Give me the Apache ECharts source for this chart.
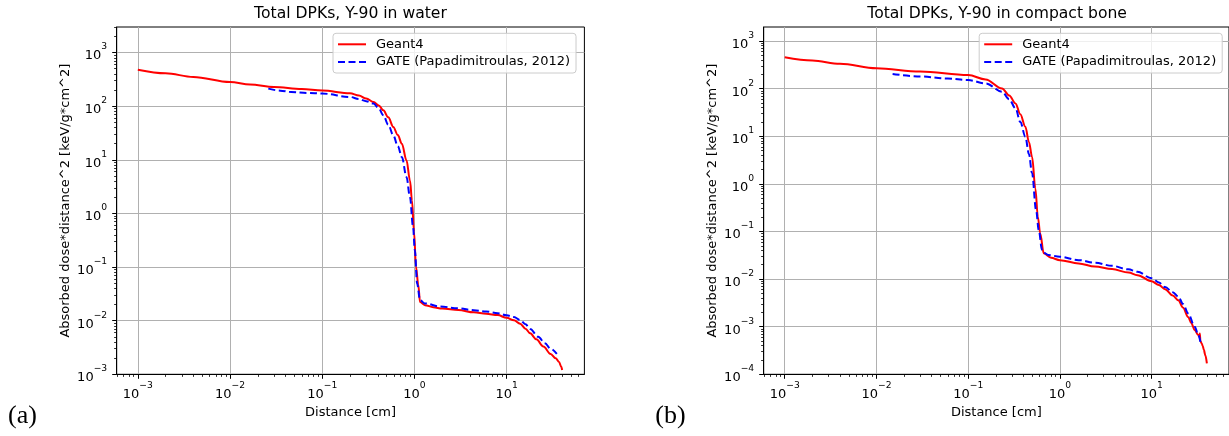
<!DOCTYPE html>
<html>
<head>
<meta charset="utf-8">
<script src="https://cdn.jsdelivr.net/npm/echarts@6/dist/echarts.min.js"></script>
<style>
html,body{margin:0;padding:0;background:#fff;}
#chart{width:1229px;height:436px;}
</style>
</head>
<body>
<div id="chart"></div>
<script>
// ---------------- text ----------------
const panelTitles = ['Total DPKs, Y-90 in water', 'Total DPKs, Y-90 in compact bone'];
const panelLetters = ['(a)', '(b)'];
const seriesNames = ['Geant4', 'GATE (Papadimitroulas, 2012)'];
const xAxisTitle = 'Distance [cm]';
const yAxisTitle = 'Absorbed dose*distance^2 [keV/g*cm^2]';

// ---------------- ticks ----------------
const xMajorTicks = [1e-3, 1e-2, 1e-1, 1, 10, 100];
const yMajorTicksWater = [1e-3, 1e-2, 1e-1, 1, 10, 100, 1000];
const yMajorTicksBone = [1e-4, 1e-3, 1e-2, 1e-1, 1, 10, 100, 1000];
const minorMantissas = [2, 3, 4, 5, 6, 7, 8, 9];
const xRange = [5.9e-4, 69.7];
const yRangeWater = [1e-3, 3000];
const yRangeBone = [1e-4, 1970];

// ---------------- data: water ----------------
const waterG4Dist = [0.001, 0.002, 0.004, 0.01, 0.0165, 0.03, 0.06, 0.1, 0.2, 0.25, 0.3, 0.36, 0.41, 0.46, 0.52, 0.59, 0.66, 0.73, 0.82, 0.895, 0.94, 0.99, 1.04, 1.10, 1.15, 1.3, 1.6, 2.0, 3.0, 4.4, 6.0, 8.0, 10, 12, 14, 16, 18, 21, 25, 30, 34, 37, 39, 40];
const waterG4Dose = [480, 411, 351, 282, 254, 229, 209, 196, 174, 158, 139, 120, 103, 84, 62, 41, 29, 20, 9.8, 4.1, 1.75, 0.45, 0.1, 0.047, 0.0222, 0.0195, 0.0178, 0.0168, 0.0158, 0.0143, 0.0135, 0.0127, 0.0113, 0.0102, 0.0088, 0.0071, 0.0058, 0.0045, 0.0033, 0.0024, 0.0020, 0.0017, 0.0014, 0.0012];
const waterGateDist = [0.026, 0.035, 0.046, 0.07, 0.1, 0.2, 0.25, 0.3, 0.36, 0.41, 0.46, 0.52, 0.59, 0.66, 0.73, 0.82, 0.895, 0.966, 1.01, 1.07, 1.15, 1.3, 1.9, 3.0, 4.4, 6.0, 8.0, 10, 12, 14, 16, 18, 22, 26, 30, 35];
const waterGateDose = [213, 195, 184, 177, 172, 149, 136, 124, 112, 91, 68, 45, 28.6, 18, 11.3, 4.8, 2.0, 0.56, 0.205, 0.049, 0.024, 0.021, 0.0184, 0.017, 0.0157, 0.0148, 0.0138, 0.0126, 0.0117, 0.0103, 0.0086, 0.0070, 0.0050, 0.0038, 0.0030, 0.0024];

// ---------------- data: compact bone ----------------
const boneG4Dist = [0.001, 0.002, 0.004, 0.01, 0.03, 0.1, 0.155, 0.234, 0.28, 0.328, 0.37, 0.42, 0.46, 0.497, 0.54, 0.575, 0.61, 0.666, 0.8, 1.0, 1.6, 2.4, 3.7, 5.6, 7.0, 10, 12, 14, 17, 19.5, 22, 25, 27, 29.5, 32, 33, 33.5, 34, 35, 36, 37, 38.5, 40];
const boneG4Dose = [454, 388, 332, 267, 229, 193, 156, 101, 72, 49, 29, 15.9, 7.5, 3.7, 0.8, 0.2, 0.091, 0.0347, 0.028, 0.025, 0.0213, 0.0183, 0.0162, 0.0137, 0.0121, 0.0090, 0.0075, 0.0061, 0.0045, 0.0036, 0.0025, 0.0016, 0.0012, 0.00085, 0.00068, 0.00062, 0.00072, 0.0005, 0.00045, 0.0004, 0.00033, 0.00025, 0.00017];
const boneGateDist = [0.015, 0.03, 0.06, 0.1, 0.155, 0.234, 0.28, 0.328, 0.37, 0.42, 0.46, 0.497, 0.55, 0.588, 0.638, 0.66, 0.75, 1.0, 1.6, 2.42, 3.7, 5.57, 7.0, 10, 12, 14, 17, 19.5, 22, 25, 29.5, 32, 34];
const boneGateDose = [203, 180, 163, 151, 129, 86, 60, 38.5, 20, 9.8, 4.2, 1.66, 0.28, 0.107, 0.041, 0.036, 0.032, 0.0295, 0.025, 0.022, 0.019, 0.016, 0.0142, 0.0104, 0.0085, 0.0068, 0.0053, 0.0043, 0.0030, 0.0019, 0.001, 0.0007, 0.00048];

// ---------------- helpers ----------------
const FONT = 'DejaVu Sans';
function zip(xs, ys) { return xs.map((x, i) => [x, ys[i]]); }
function minorTicks(range) {
  const out = [];
  const lo = Math.floor(Math.log10(range[0])), hi = Math.ceil(Math.log10(range[1]));
  for (let d = lo; d <= hi; d++) {
    minorMantissas.forEach(m => {
      const v = m * Math.pow(10, d);
      if (v >= range[0] && v <= range[1]) out.push(v);
    });
  }
  return out;
}
function powLabel(v) {
  const e = Math.round(Math.log10(v));
  const s = e < 0 ? '\u2212' + (-e) : String(e);
  return '{b|10}{e|' + s + '}';
}
const labelRich = {
  b: { fontSize: 13, lineHeight: 20, verticalAlign: 'bottom', fontFamily: FONT, color: '#000' },
  e: { fontSize: 9.2, lineHeight: 9, verticalAlign: 'top', fontFamily: FONT, color: '#000' }
};
const nameStyle = { fontSize: 13, fontFamily: FONT, color: '#000' };

function mainX(gi) {
  return {
    type: 'log', logBase: 10, gridIndex: gi, min: xRange[0], max: xRange[1], position: 'bottom',
    axisLine: { show: true, lineStyle: { color: '#000', width: 1 } },
    axisTick: { show: true, length: 4.5, customValues: xMajorTicks, lineStyle: { color: '#000', width: 1 } },
    axisLabel: { customValues: xMajorTicks, formatter: powLabel, rich: labelRich, margin: 7 },
    splitLine: { show: true, lineStyle: { color: '#b0b0b0', width: 1 } },
    name: xAxisTitle, nameLocation: 'middle', nameGap: 28, nameTextStyle: nameStyle
  };
}
function minorX(gi) {
  return {
    type: 'log', logBase: 10, gridIndex: gi, min: xRange[0], max: xRange[1], position: 'bottom',
    axisLine: { show: false }, axisLabel: { show: false }, splitLine: { show: false },
    axisTick: { show: true, length: 2.6, customValues: minorTicks(xRange), lineStyle: { color: '#000', width: 0.8 } }
  };
}
function mainY(gi, range, majors) {
  return {
    type: 'log', logBase: 10, gridIndex: gi, min: range[0], max: range[1], position: 'left',
    axisLine: { show: true, lineStyle: { color: '#000', width: 1 } },
    axisTick: { show: true, length: 4.5, customValues: majors, lineStyle: { color: '#000', width: 1 } },
    axisLabel: { customValues: majors, formatter: powLabel, rich: labelRich, margin: 9.5 },
    splitLine: { show: true, lineStyle: { color: '#b0b0b0', width: 1 } },
    name: yAxisTitle, nameLocation: 'middle', nameGap: 45, nameTextStyle: nameStyle
  };
}
function minorY(gi, range) {
  return {
    type: 'log', logBase: 10, gridIndex: gi, min: range[0], max: range[1], position: 'left',
    axisLine: { show: false }, axisLabel: { show: false }, splitLine: { show: false },
    axisTick: { show: true, length: 2.6, customValues: minorTicks(range), lineStyle: { color: '#000', width: 0.8 } }
  };
}
function g4Series(xi, yi, xs, ys) {
  return {
    type: 'line', name: seriesNames[0], xAxisIndex: xi, yAxisIndex: yi, data: zip(xs, ys),
    symbol: 'none', smooth: 0.35, smoothMonotone: 'x',
    lineStyle: { color: '#ff0000', width: 2 }, itemStyle: { color: '#ff0000' }, z: 3
  };
}
function gateSeries(xi, yi, xs, ys) {
  return {
    type: 'line', name: seriesNames[1], xAxisIndex: xi, yAxisIndex: yi, data: zip(xs, ys),
    symbol: 'none', smooth: 0.35, smoothMonotone: 'x',
    lineStyle: { color: '#0000ff', width: 2, type: [7, 3.5] }, itemStyle: { color: '#0000ff' }, z: 4
  };
}
function legendAt(left) {
  return {
    orient: 'vertical', left: left, top: 33.3, data: seriesNames,
    itemWidth: 28, itemHeight: 14, itemGap: 4.7,
    padding: [4.5, 6, 4.5, 4],
    backgroundColor: 'rgba(255,255,255,0.8)', borderColor: '#cccccc', borderWidth: 1, borderRadius: 3,
    itemStyle: { opacity: 0, borderWidth: 0 },
    textStyle: { fontSize: 13, fontFamily: FONT, color: '#000', padding: [0, 0, 0, 5] },
    selectedMode: false
  };
}

const chart = echarts.init(document.getElementById('chart'), null, { renderer: 'canvas' });
chart.setOption({
  animation: false,
  backgroundColor: '#ffffff',
  grid: [
    { left: 116.7, top: 27, width: 467.7, height: 347.3, show: true, borderColor: '#000', borderWidth: 1, backgroundColor: 'transparent' },
    { left: 763.7, top: 27, width: 467, height: 347.3, show: true, borderColor: '#000', borderWidth: 1, backgroundColor: 'transparent' }
  ],
  xAxis: [mainX(0), minorX(0), mainX(1), minorX(1)],
  yAxis: [mainY(0, yRangeWater, yMajorTicksWater), minorY(0, yRangeWater), mainY(1, yRangeBone, yMajorTicksBone), minorY(1, yRangeBone)],
  legend: [legendAt(333), legendAt(979.2)],
  series: [
    g4Series(0, 0, waterG4Dist, waterG4Dose),
    gateSeries(0, 0, waterGateDist, waterGateDose),
    g4Series(2, 2, boneG4Dist, boneG4Dose),
    gateSeries(2, 2, boneGateDist, boneGateDose)
  ],
  graphic: [
    { type: 'text', x: 350.5, y: 14, style: { text: panelTitles[0], fontSize: 15.6, fontFamily: FONT, fill: '#000', align: 'center', verticalAlign: 'middle' } },
    { type: 'text', x: 997.1, y: 14, style: { text: panelTitles[1], fontSize: 15.6, fontFamily: FONT, fill: '#000', align: 'center', verticalAlign: 'middle' } },
    { type: 'text', x: 22.5, y: 416, style: { text: panelLetters[0], fontSize: 26, fontFamily: 'Liberation Serif', fill: '#000', align: 'center', verticalAlign: 'middle' } },
    { type: 'text', x: 670.5, y: 416, style: { text: panelLetters[1], fontSize: 26, fontFamily: 'Liberation Serif', fill: '#000', align: 'center', verticalAlign: 'middle' } }
  ]
});
</script>
</body>
</html>
